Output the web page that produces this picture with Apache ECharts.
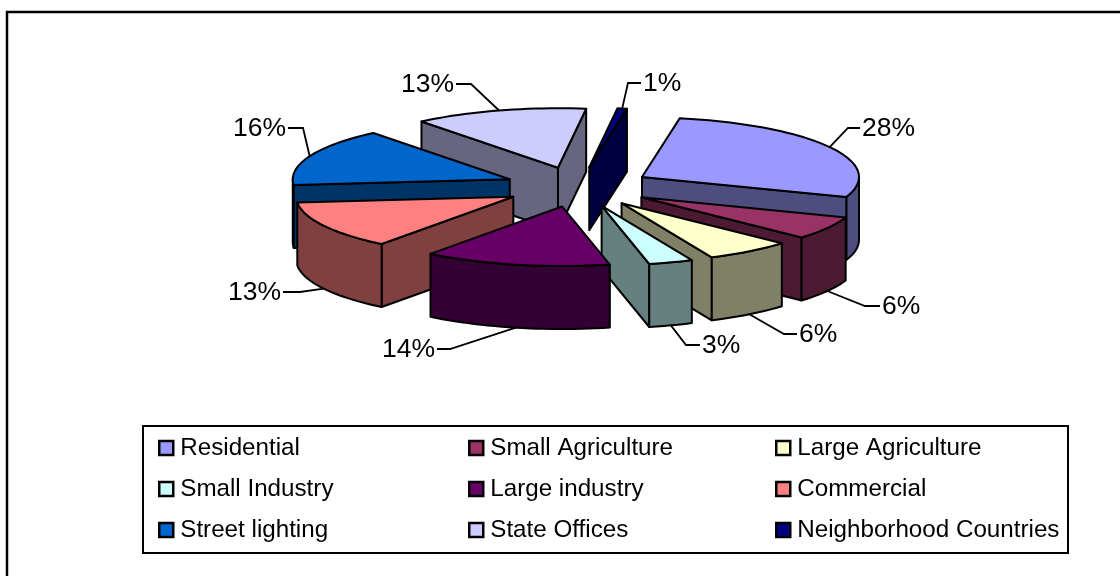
<!DOCTYPE html>
<html>
<head>
<meta charset="utf-8">
<style>html,body{margin:0;padding:0;background:#fff}#c{width:1120px;height:576px}</style>
<script src="https://cdn.jsdelivr.net/npm/echarts@6/dist/echarts.min.js"></script>
</head>
<body>
<div id="c"></div>
<script>
var categories = ['Residential','Small Agriculture','Large Agriculture','Small Industry','Large industry','Commercial','Street lighting','State Offices','Neighborhood Countries'];
var shares = [27.7,6.3,6.4,3.3,13.9,13.1,15.7,12.9,0.7];
var topColors = ['#9999FF','#993366','#FFFFCC','#CCFFFF','#660066','#FF8080','#0066CC','#CCCCFF','#000080'];
var wallColors = ['#4D4D80','#4D1A33','#808066','#668080','#330033','#804040','#003366','#666680','#000040'];
var legendColumns = [[0,3,6],[1,4,7],[2,5,8]];

// pie projection
var CX=578, CY=187, RX=217, RY=59.5, DEPTH=63, EX=74, EY=20, START=10;
// leader elbow and end, label side (+1 right of the line, -1 left)
var leaderLayout = [
  {elbow:[848,128],end:[860,128],side:1},
  {elbow:[865,306],end:[880,306],side:1},
  {elbow:[784,334],end:[797,334],side:1},
  {elbow:[686,345],end:[700,345],side:1},
  {elbow:[450,349],end:[437,349],side:-1},
  {elbow:[300,292],end:[283,292],side:-1},
  {elbow:[303,128],end:[288,128],side:-1},
  {elbow:[471,84],end:[456,84],side:-1},
  {elbow:[628,83],end:[641,83],side:1}
];

var total = shares.reduce(function(a,b){return a+b;},0);
var rad = Math.PI/180;
function sliceGeom(i){
  var s = START; for(var k=0;k<i;k++) s += shares[k]/total*360;
  var e = s + shares[i]/total*360, m=(s+e)/2;
  var ax = CX+EX*Math.sin(m*rad), ay = CY-EY*Math.cos(m*rad);
  return {s:s,e:e,m:m,ax:ax,ay:ay};
}
function arcPoint(g,t){ return [g.ax+RX*Math.sin(t*rad), g.ay-RY*Math.cos(t*rad)]; }
function norm(t){ t%=360; return t<0?t+360:t; }
function style(fill){ return {fill:fill,stroke:'#000',lineWidth:2,lineJoin:'round'}; }
function wall(pts,fill){
  var lower = pts.map(function(p){return [p[0],p[1]+DEPTH];}).reverse();
  return {type:'polygon',shape:{points:pts.concat(lower)},style:style(fill),silent:true};
}

function renderSlice(i){
  var g = sliceGeom(i), apex=[g.ax,g.ay], children=[];
  var rim=[], steps=Math.max(2,Math.ceil((g.e-g.s)/2));
  for(var n=0;n<=steps;n++) rim.push(arcPoint(g,g.s+(g.e-g.s)*n/steps));
  var first=rim[0], last=rim[rim.length-1];
  // faces are visible when the clockwise rim runs leftward on screen
  if(first[0]<apex[0]) children.push(wall([apex,first],wallColors[i]));
  if(apex[0]<last[0]) children.push(wall([last,apex],wallColors[i]));
  var run=[];
  for(var j=0;j<rim.length;j++){
    var t=norm(g.s+(g.e-g.s)*j/steps);
    if(t>=90&&t<=270) run.push(rim[j]);
  }
  // close the wall exactly at the ellipse's horizontal extremes when the slice crosses them
  if(norm(g.s)<90&&norm(g.e)>90) run.unshift(arcPoint(g,90));
  if(norm(g.s)<270&&norm(g.e)>270) run.push(arcPoint(g,270));
  if(run.length>1) children.push(wall(run,wallColors[i]));
  children.sort(function(a,b){
    var ya=a.shape.points.reduce(function(v,p){return v+p[1];},0)/a.shape.points.length;
    var yb=b.shape.points.reduce(function(v,p){return v+p[1];},0)/b.shape.points.length;
    return ya-yb;
  });
  children.push({type:'polygon',shape:{points:[apex].concat(rim)},style:style(topColors[i]),silent:true});
  // leader and label
  var t=norm(g.m), p=arcPoint(g,t);
  if(t>90&&t<270) p=[p[0],p[1]+DEPTH];
  var L=leaderLayout[i];
  children.push({type:'polyline',shape:{points:[p,L.elbow,L.end]},style:{fill:'none',stroke:'#000',lineWidth:1.8},silent:true,z2:50});
  children.push({type:'text',x:L.end[0]+L.side*2,y:L.end[1]+1,style:{text:Math.round(shares[i])+'%',fill:'#000',font:'26.5px "Liberation Sans", Arial, sans-serif',textAlign:L.side>0?'left':'right',textVerticalAlign:'middle'},silent:true,z2:50});
  return {type:'group',children:children};
}

var order = categories.map(function(_,i){return i;}).sort(function(a,b){return sliceGeom(a).ay-sliceGeom(b).ay;});
var series = categories.map(function(name,i){
  return {
    type:'custom',name:name,coordinateSystem:'none',
    z:2+order.indexOf(i),
    itemStyle:{color:topColors[i]},
    data:[shares[i]],
    silent:true,animation:false,
    renderItem:function(){return renderSlice(i);}
  };
});
var legendLefts=[158,468,775];
var legends = legendColumns.map(function(col,c){
  return {
    orient:'vertical',left:legendLefts[c],top:436,itemGap:17,itemWidth:14,itemHeight:14,icon:'rect',
    data:col.map(function(i){return categories[i];}),
    selectedMode:false,
    itemStyle:{borderColor:'#000',borderWidth:2.5},
    textStyle:{fontFamily:'"Liberation Sans", Arial, sans-serif',fontSize:24.2,color:'#000',padding:[0,0,0,2]},
    padding:0
  };
});
var chart = echarts.init(document.getElementById('c'),null,{renderer:'canvas'});
chart.setOption({
  animation:false,
  backgroundColor:'#fff',
  graphic:[
    {type:'rect',z:0,shape:{x:7,y:12,width:1300,height:800},style:{fill:'#fff',stroke:'#000',lineWidth:2.5},silent:true},
    {type:'rect',z:0,shape:{x:143,y:426,width:925,height:127},style:{fill:'#fff',stroke:'#000',lineWidth:2},silent:true}
  ],
  legend:legends,
  series:series
});
</script>
</body>
</html>
